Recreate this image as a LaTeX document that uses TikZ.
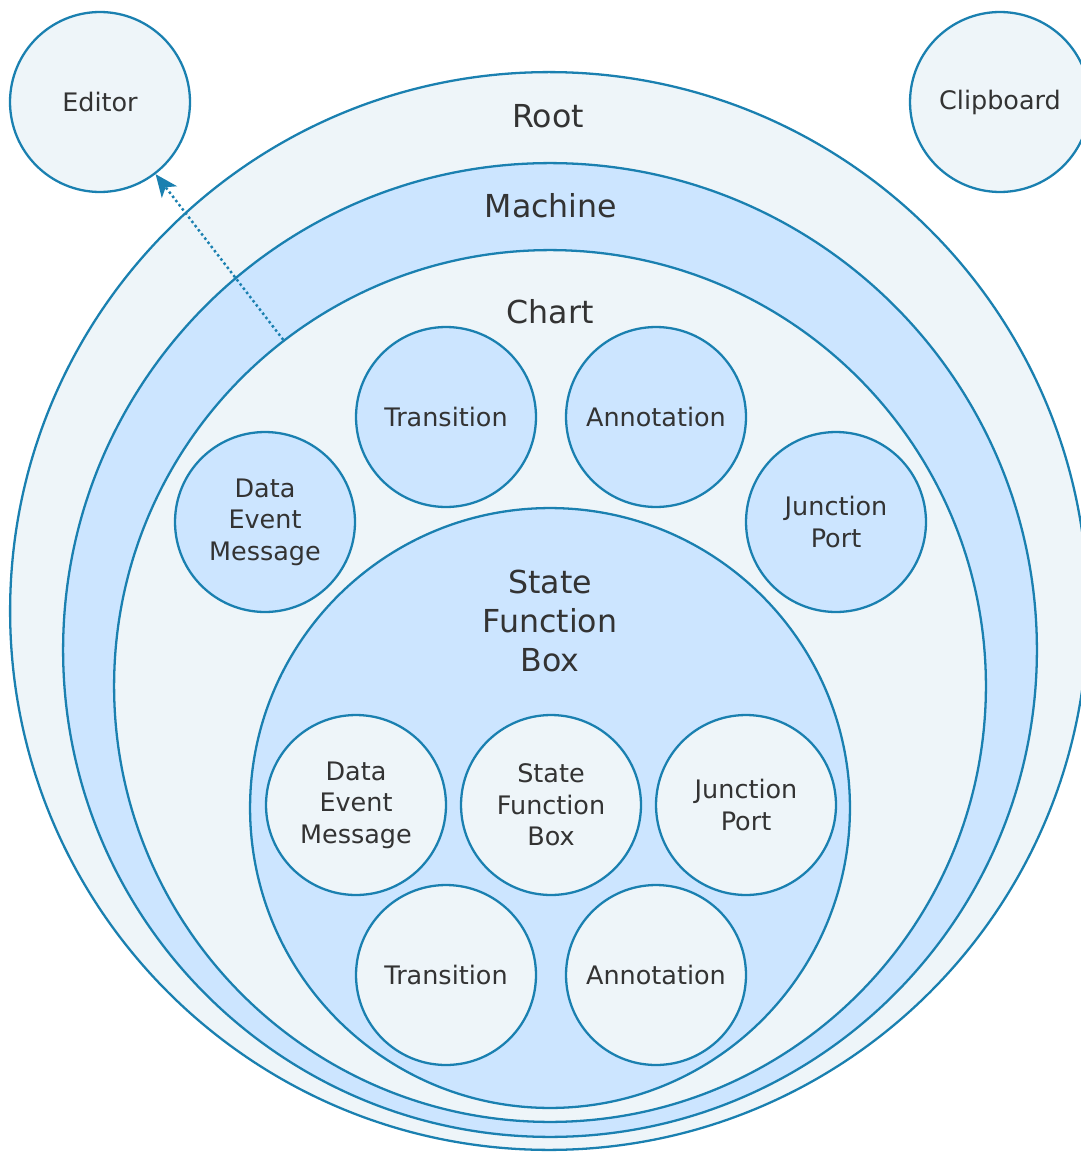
\documentclass[tikz,border=0pt]{standalone}
\usepackage{fontspec}
\setmainfont{DejaVu Sans}
\usetikzlibrary{arrows.meta}
\definecolor{trait}{HTML}{1A80B0}
\definecolor{clair}{HTML}{EEF5F9}
\definecolor{bleu}{HTML}{CCE5FF}
\definecolor{texte}{HTML}{333333}
\tikzset{
    cercle/.style={circle, draw=trait, line width=1.3pt, inner sep=0pt,
        text=texte, align=center, font=\fontsize{14.5}{18}\selectfont},
    petit/.style={cercle, minimum size=3.6cm},
    titre/.style={text=texte, align=center, font=\fontsize{18}{22}\selectfont}
}
\begin{document}
\begin{tikzpicture}[x=0.02cm,y=-0.02cm]
    % Cadre de l'image
    \useasboundingbox (0,0) rectangle (1081,1152);
    \clip (0,0) rectangle (1081,1152);
    % Cercles emboites
    \node[cercle, fill=clair, minimum size=21.56cm] (root) at (549,611) {};
    \node[cercle, fill=bleu, minimum size=19.48cm] (machine) at (550,650) {};
    \node[cercle, fill=clair, minimum size=17.44cm] (chart) at (550,686) {};
    \node[cercle, fill=bleu, minimum size=12cm] (sfb) at (550,808) {};
    % Titres
    \node[titre] (rootlbl) at (548,116) {Root};
    \node[titre] (machinelbl) at (551,206) {Machine};
    \node[titre] (chartlbl) at (550,312) {Chart};
    \node[titre] (sfblbl) at (550,621) {State\\Function\\Box};
    % Elements du Chart
    \node[petit, fill=bleu] (trans) at (446,417) {Transition};
    \node[petit, fill=bleu] (annot) at (656,417) {Annotation};
    \node[petit, fill=bleu] (dem) at (265,522) {Data\\Event\\Message};
    \node[petit, fill=bleu] (jp) at (836,522) {Junction\\Port};
    % Elements du State Function Box
    \node[petit, fill=clair] (demin) at (356,805) {Data\\Event\\Message};
    \node[petit, fill=clair] (sfbin) at (551,805) {State\\Function\\Box};
    \node[petit, fill=clair] (jpin) at (746,805) {Junction\\Port};
    \node[petit, fill=clair] (transin) at (446,975) {Transition};
    \node[petit, fill=clair] (annotin) at (656,975) {Annotation};
    % Editor et Clipboard
    \node[petit, fill=clair] (editor) at (100,102) {Editor};
    \node[petit, fill=clair] (clip) at (1000,102) {Clipboard};
    % Fleche pointillee
    \draw[trait, line width=1.4pt, dash pattern=on 1.4pt off 1.6pt,
        -{Stealth[length=4.5mm,width=3.8mm,inset=1.2mm]}] (chart) -- (editor);
\end{tikzpicture}
\end{document}
